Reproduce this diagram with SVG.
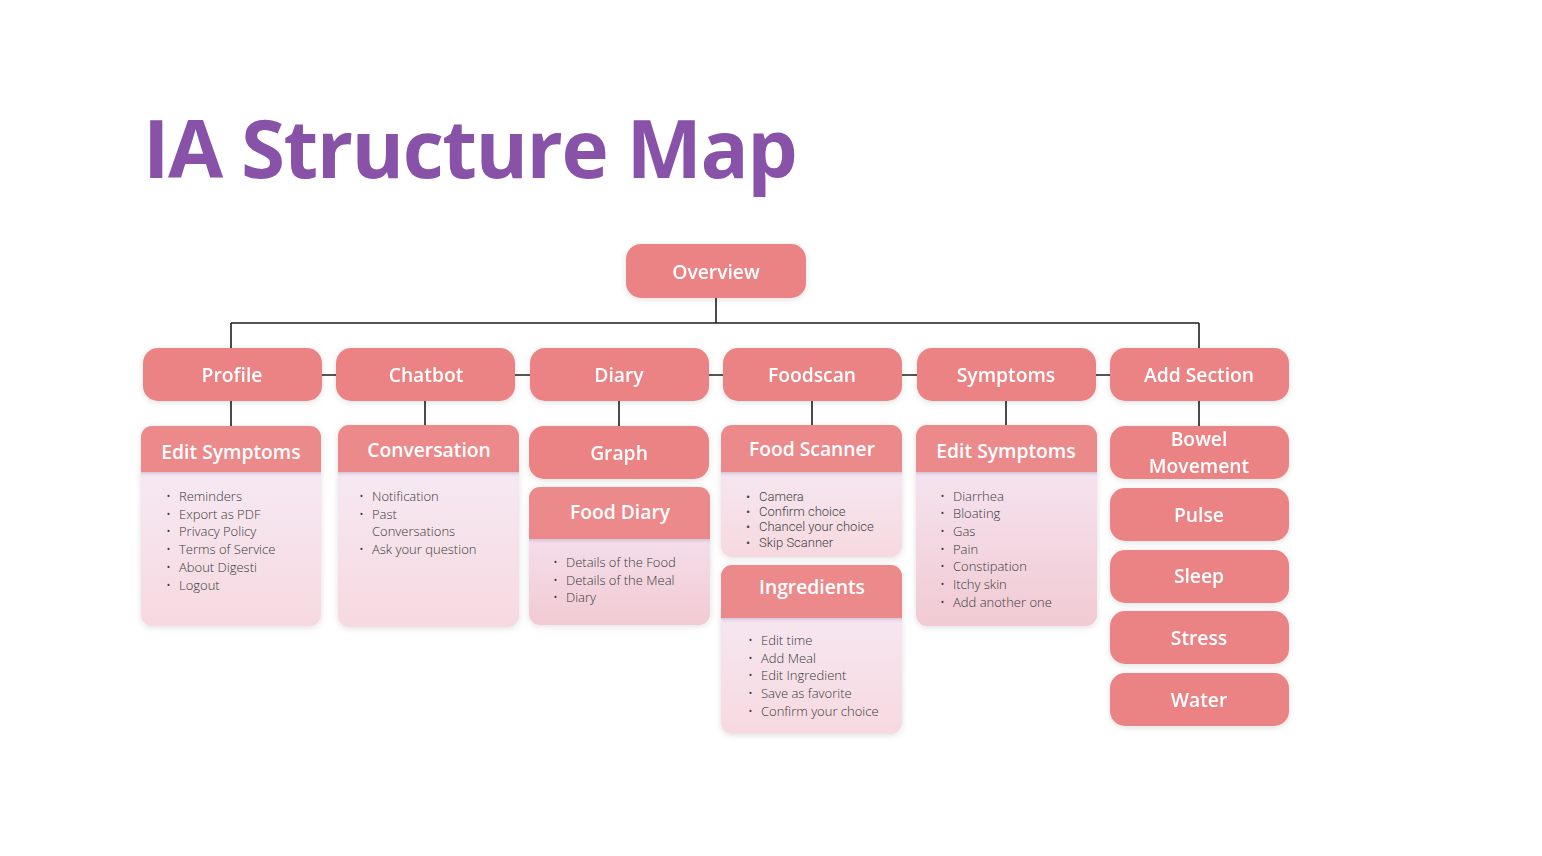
<svg xmlns="http://www.w3.org/2000/svg" width="1542" height="856" viewBox="0 0 1542 856">
<style>
.node{fill:#eb8385;}
.hdr{fill:#ec898b;}
.lbl{font-family:"Open Sans","Liberation Sans",sans-serif;font-size:19.3px;font-weight:600;fill:#fff;text-anchor:middle;}
.li{font-family:"Open Sans","Liberation Sans",sans-serif;font-size:13px;font-weight:300;fill:#3a3a3a;}
.lir{font-family:Roboto,"Liberation Sans",sans-serif;font-size:13px;font-weight:300;fill:#444;}
.con{stroke:#1e1e1e;stroke-width:1.6;fill:none;}
</style>
<defs>
<filter id="sh" x="-10%" y="-20%" width="120%" height="140%">
<feDropShadow dx="0" dy="1.5" stdDeviation="3" flood-color="#000" flood-opacity="0.12"/>
</filter>
<linearGradient id="body" x1="0" y1="0" x2="0" y2="1">
<stop offset="0" stop-color="#f5edf8"/>
<stop offset="1" stop-color="#f7d9e0"/>
</linearGradient>
<linearGradient id="body2" x1="0" y1="0" x2="0" y2="1">
<stop offset="0" stop-color="#f6eaf7"/>
<stop offset="1" stop-color="#f1cad3"/>
</linearGradient>
<linearGradient id="hsh" x1="0" y1="0" x2="0" y2="1">
<stop offset="0" stop-color="#b9a6c0" stop-opacity="0.55"/>
<stop offset="1" stop-color="#f5edf8" stop-opacity="0"/>
</linearGradient>
</defs>
<rect width="1542" height="856" fill="#fff"/>
<text x="143" y="178" font-family="'Open Sans','Liberation Sans',sans-serif" font-size="80" font-weight="700" letter-spacing="-1.5" fill="#8852a8">IA Structure Map</text>

<g id="connectors">
<path class="con" d="M716 298V323M231 323H1199M231 323V348M1199 323V348M231 375H1199"/>
<path class="con" d="M231 401V426M425 401V426M619 401V426M812 401V426M1006 401V426M1199 401V426"/>
</g>

<g id="overview" filter="url(#sh)"><rect class="node" x="626" y="244" width="180" height="54" rx="15"/><text class="lbl" x="716" y="279">Overview</text></g>

<g id="profile" filter="url(#sh)"><rect class="node" x="143" y="348" width="179" height="53" rx="15"/><text class="lbl" x="232" y="382">Profile</text></g>
<g id="chatbot" filter="url(#sh)"><rect class="node" x="336" y="348" width="179" height="53" rx="15"/><text class="lbl" x="426" y="382">Chatbot</text></g>
<g id="diary" filter="url(#sh)"><rect class="node" x="530" y="348" width="179" height="53" rx="15"/><text class="lbl" x="619" y="382">Diary</text></g>
<g id="foodscan" filter="url(#sh)"><rect class="node" x="723" y="348" width="179" height="53" rx="15"/><text class="lbl" x="812" y="382">Foodscan</text></g>
<g id="symptoms" filter="url(#sh)"><rect class="node" x="917" y="348" width="179" height="53" rx="15"/><text class="lbl" x="1006" y="382">Symptoms</text></g>
<g id="add-section" filter="url(#sh)"><rect class="node" x="1110" y="348" width="179" height="53" rx="15"/><text class="lbl" x="1199" y="382">Add Section</text></g>

<g id="profile-edit-symptoms">
<g filter="url(#sh)"><rect x="141" y="426" width="180" height="200" rx="11" fill="url(#body)"/></g>
<path class="hdr" d="M152 426H310A11 11 0 0 1 321 437V472H141V437A11 11 0 0 1 152 426Z"/>
<rect x="141" y="472" width="180" height="6" fill="url(#hsh)"/>
<text class="lbl" x="231" y="459">Edit Symptoms</text>
<g class="li"><text x="166" y="501">•</text><text x="179" y="501">Reminders</text>
<text x="166" y="518.7">•</text><text x="179" y="518.7">Export as PDF</text>
<text x="166" y="536.4">•</text><text x="179" y="536.4">Privacy Policy</text>
<text x="166" y="554.1">•</text><text x="179" y="554.1">Terms of Service</text>
<text x="166" y="571.8">•</text><text x="179" y="571.8">About Digesti</text>
<text x="166" y="589.5">•</text><text x="179" y="589.5">Logout</text></g>
</g>

<g id="conversation">
<g filter="url(#sh)"><rect x="338" y="425" width="181" height="202" rx="11" fill="url(#body)"/></g>
<path class="hdr" d="M349 425H508A11 11 0 0 1 519 436V472H338V436A11 11 0 0 1 349 425Z"/>
<rect x="338" y="472" width="181" height="6" fill="url(#hsh)"/>
<text class="lbl" x="429" y="457">Conversation</text>
<g class="li"><text x="359" y="501">•</text><text x="372" y="501">Notification</text>
<text x="359" y="518.7">•</text><text x="372" y="518.7">Past</text>
<text x="372" y="536.4">Conversations</text>
<text x="359" y="554.1">•</text><text x="372" y="554.1">Ask your question</text></g>
</g>

<g id="graph" filter="url(#sh)"><rect class="node" x="529" y="426" width="180" height="53" rx="15"/><text class="lbl" x="619" y="460">Graph</text></g>

<g id="food-diary">
<g filter="url(#sh)"><rect x="529" y="487" width="181" height="138" rx="11" fill="url(#body2)"/></g>
<path class="hdr" d="M540 487H699A11 11 0 0 1 710 498V539H529V498A11 11 0 0 1 540 487Z"/>
<rect x="529" y="539" width="181" height="6" fill="url(#hsh)"/>
<text class="lbl" x="620" y="519" font-size="18.4">Food Diary</text>
<g class="li"><text x="553" y="567">•</text><text x="566" y="567">Details of the Food</text>
<text x="553" y="584.7">•</text><text x="566" y="584.7">Details of the Meal</text>
<text x="553" y="602.4">•</text><text x="566" y="602.4">Diary</text></g>
</g>

<g id="food-scanner">
<g filter="url(#sh)"><rect x="721" y="425" width="181" height="132" rx="11" fill="url(#body)"/></g>
<path class="hdr" d="M732 425H891A11 11 0 0 1 902 436V472H721V436A11 11 0 0 1 732 425Z"/>
<rect x="721" y="472" width="181" height="6" fill="url(#hsh)"/>
<text class="lbl" x="812" y="456">Food Scanner</text>
<g class="lir"><text x="746" y="500.7">•</text><text x="759" y="500.7">Camera</text>
<text x="746" y="516">•</text><text x="759" y="516">Confirm choice</text>
<text x="746" y="531.3">•</text><text x="759" y="531.3">Chancel your choice</text>
<text x="746" y="546.6">•</text><text x="759" y="546.6">Skip Scanner</text></g>
</g>

<g id="ingredients">
<g filter="url(#sh)"><rect x="721" y="565" width="181" height="169" rx="11" fill="url(#body)"/></g>
<path class="hdr" d="M732 565H891A11 11 0 0 1 902 576V618H721V576A11 11 0 0 1 732 565Z"/>
<rect x="721" y="618" width="181" height="6" fill="url(#hsh)"/>
<text class="lbl" x="812" y="594">Ingredients</text>
<g class="li"><text x="748" y="645">•</text><text x="761" y="645">Edit time</text>
<text x="748" y="662.7">•</text><text x="761" y="662.7">Add Meal</text>
<text x="748" y="680.4">•</text><text x="761" y="680.4">Edit Ingredient</text>
<text x="748" y="698.1">•</text><text x="761" y="698.1">Save as favorite</text>
<text x="748" y="715.8">•</text><text x="761" y="715.8">Confirm your choice</text></g>
</g>

<g id="symptoms-edit-symptoms">
<g filter="url(#sh)"><rect x="916" y="425" width="181" height="201" rx="11" fill="url(#body2)"/></g>
<path class="hdr" d="M927 425H1086A11 11 0 0 1 1097 436V472H916V436A11 11 0 0 1 927 425Z"/>
<rect x="916" y="472" width="181" height="6" fill="url(#hsh)"/>
<text class="lbl" x="1006" y="458">Edit Symptoms</text>
<g class="li"><text x="940" y="500.5">•</text><text x="953" y="500.5">Diarrhea</text>
<text x="940" y="518.2">•</text><text x="953" y="518.2">Bloating</text>
<text x="940" y="535.9">•</text><text x="953" y="535.9">Gas</text>
<text x="940" y="553.6">•</text><text x="953" y="553.6">Pain</text>
<text x="940" y="571.3">•</text><text x="953" y="571.3">Constipation</text>
<text x="940" y="589">•</text><text x="953" y="589">Itchy skin</text>
<text x="940" y="606.7">•</text><text x="953" y="606.7">Add another one</text></g>
</g>

<g id="bowel-movement" filter="url(#sh)"><rect class="node" x="1110" y="426" width="179" height="53" rx="15"/><text class="lbl" x="1199" y="446">Bowel</text><text class="lbl" x="1199" y="473">Movement</text></g>
<g id="pulse" filter="url(#sh)"><rect class="node" x="1110" y="488" width="179" height="53" rx="15"/><text class="lbl" x="1199" y="522">Pulse</text></g>
<g id="sleep" filter="url(#sh)"><rect class="node" x="1110" y="550" width="179" height="53" rx="15"/><text class="lbl" x="1199" y="583">Sleep</text></g>
<g id="stress" filter="url(#sh)"><rect class="node" x="1110" y="611" width="179" height="53" rx="15"/><text class="lbl" x="1199" y="645">Stress</text></g>
<g id="water" filter="url(#sh)"><rect class="node" x="1110" y="673" width="179" height="53" rx="15"/><text class="lbl" x="1199" y="707">Water</text></g>
</svg>
